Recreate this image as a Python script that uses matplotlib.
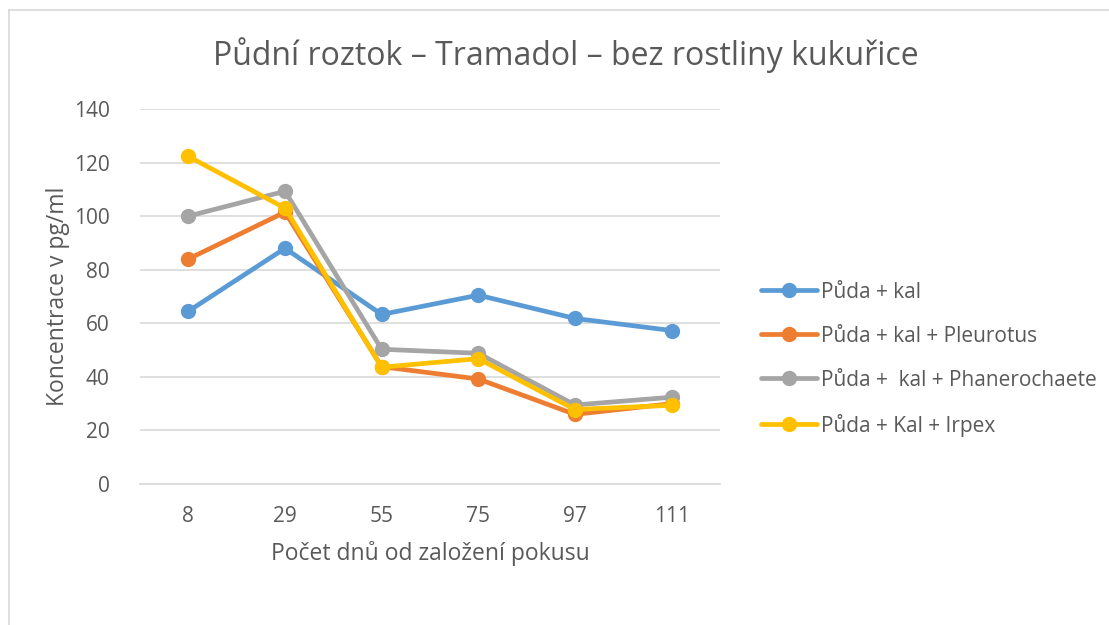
import matplotlib
matplotlib.use("Agg")
import matplotlib.pyplot as plt
from matplotlib.lines import Line2D

plt.rcParams['font.family'] = ['Open Sans', 'DejaVu Sans']

categories = ["8", "29", "55", "75", "97", "111"]
puda_kal = [64.5, 88, 63.3, 70.5, 61.8, 57.3]
pleurotus = [84, 101.5, 43.8, 39.2, 26, 30]
phanerochaete = [100, 109.3, 50.3, 48.8, 29.5, 32.4]
irpex = [122.3, 103, 43.6, 46.8, 27.8, 29.4]

series = [
    ("Půda + kal", puda_kal, "#5B9BD5"),
    ("Půda + kal + Pleurotus", pleurotus, "#ED7D31"),
    ("Půda +  kal + Phanerochaete", phanerochaete, "#A5A5A5"),
    ("Půda + Kal + Irpex", irpex, "#FFC000"),
]

W, H = 1109, 625
fig = plt.figure(figsize=(W/100, H/100), dpi=100)
ax = fig.add_axes([140/W, 1-484/H, (720-140)/W, (484-109)/H])

x = list(range(len(categories)))
for name, vals, col in series:
    ax.plot(x, vals, color=col, lw=3.4, marker='o', ms=10, label=name,
            solid_capstyle='round', solid_joinstyle='round')

ax.set_xlim(-0.5, len(categories)-0.5)
ax.set_ylim(0, 140)
ax.set_yticks(range(0, 141, 20))
ax.set_xticks(x)
ax.set_xticklabels(categories)
ax.grid(axis='y', color='#D9D9D9', lw=1.2)
ax.set_axisbelow(True)
for s in ['top', 'right', 'left']:
    ax.spines[s].set_visible(False)
ax.spines['bottom'].set_color('#D9D9D9')
ax.spines['bottom'].set_linewidth(1.2)
ax.tick_params(length=0, labelsize=15, colors='#595959')
ax.tick_params(axis='x', pad=16)
ax.tick_params(axis='y', pad=22)

ax.set_xlabel("Počet dnů od založení pokusu", fontsize=16.5, color='#595959', labelpad=10)
ax.set_ylabel("Koncentrace v pg/ml", fontsize=16.5, color='#595959')
ax.yaxis.set_label_coords((70-140)/580, 0.5)

fig.text(566/W, 1-55/H, "Půdní roztok – Tramadol – bez rostliny kukuřice",
         ha='center', va='center', fontsize=23, color='#595959')

leg = fig.legend(loc='upper left', bbox_to_anchor=(742/W, 1-263/H), frameon=False,
                 fontsize=15, labelcolor='#595959', handlelength=2.7,
                 labelspacing=1.1, handletextpad=0.2)

fig.add_artist(Line2D([9/W, 1.0], [1-10/H, 1-10/H], color='#D9D9D9', lw=1.2, transform=fig.transFigure))
fig.add_artist(Line2D([9/W, 9/W], [0, 1-10/H], color='#D9D9D9', lw=1.2, transform=fig.transFigure))

fig.savefig("out.png", dpi=100)
